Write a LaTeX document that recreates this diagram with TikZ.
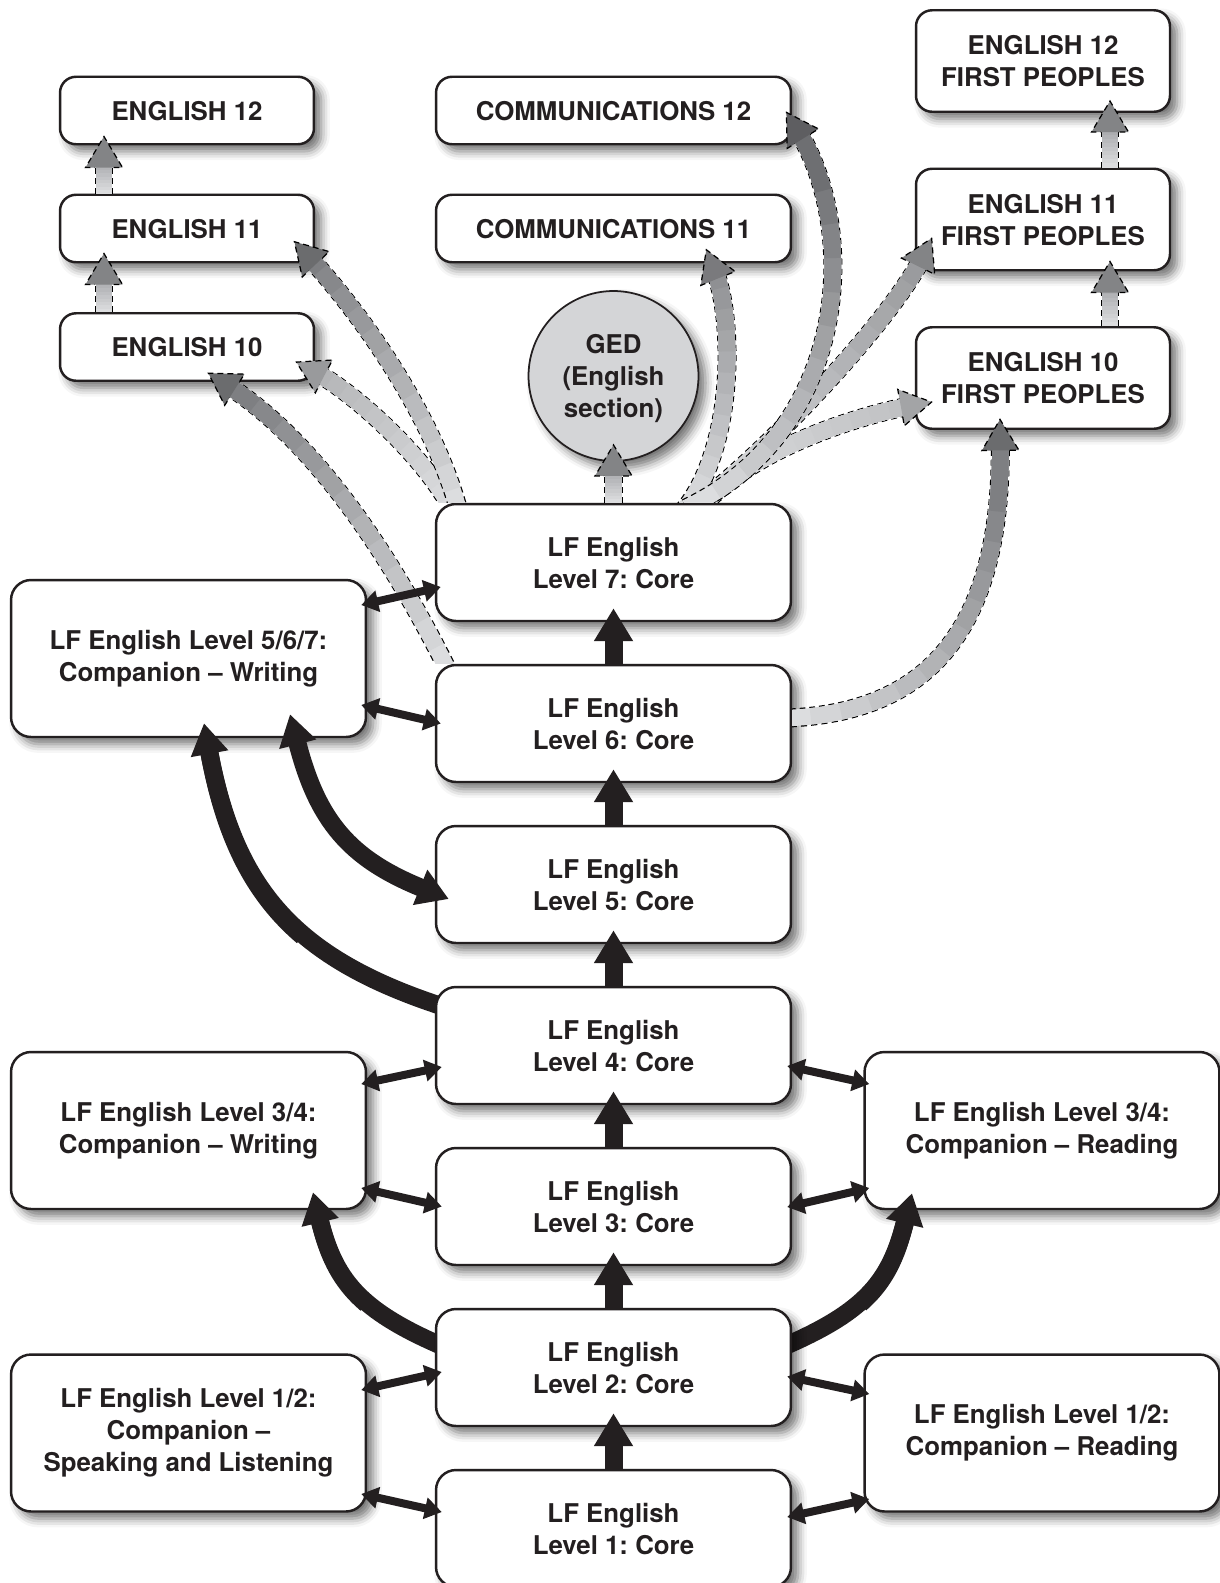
\documentclass[tikz,border=0pt]{standalone}
\usepackage{fontspec}
\setmainfont{TeX Gyre Heros}
\newfontfamily\boxfont{TeX Gyre Heros}
\usetikzlibrary{positioning,calc,arrows.meta,shadows.blur,decorations.markings}

\pgfdeclarelayer{back}
\pgfsetlayers{back,main}

\definecolor{boxline}{HTML}{231F20}
\definecolor{gedfill}{HTML}{D4D5D7}
\definecolor{glight}{HTML}{DCDDDF}
\definecolor{tipmid}{HTML}{8F9093}
\definecolor{tippale}{HTML}{B4B5B7}
\definecolor{tipdark}{HTML}{7E7F82}
\definecolor{tipdeep}{HTML}{6E6F72}
\definecolor{tipsoft}{HTML}{9A9B9E}
\definecolor{tipfaint}{HTML}{C0C1C3}

\tikzset{
  rbox/.style={draw=boxline, line width=1.4pt, fill=white, rounded corners=0.32cm,
    align=center, inner sep=0pt, text=boxline,
    font=\boxfont\bfseries\fontsize{14.7}{18.2}\selectfont\frenchspacing,
    blur shadow={shadow xshift=4pt, shadow yshift=-4pt, shadow blur radius=5pt, shadow opacity=55}},
  corebox/.style={rbox, rounded corners=0.4cm, text depth=-7pt, minimum width=7.1cm, minimum height=2.34cm},
  compbox/.style={rbox, rounded corners=0.4cm, minimum width=7.1cm, minimum height=3.14cm},
  gradebox/.style={rbox, text depth=-2.2pt, minimum width=5.08cm, minimum height=1.35cm},
  commbox/.style={rbox, text depth=-2.2pt, minimum width=7.1cm, minimum height=1.35cm},
  fpbox/.style={rbox, text depth=-2.2pt, minimum width=5.08cm, minimum height=2.03cm},
  gedcircle/.style={circle, draw=boxline, line width=1pt, fill=gedfill, minimum size=3.4cm,
    align=center, inner sep=0pt, text=boxline, text depth=0pt,
    font=\boxfont\bfseries\fontsize{14.7}{18.2}\selectfont\frenchspacing,
    blur shadow={shadow xshift=4pt, shadow yshift=-4pt, shadow blur radius=5pt, shadow opacity=55}},
  coreup/.style={draw=boxline, line width=0.36cm, -{Triangle[width=0.74cm,length=0.66cm]}},
  twoway/.style={draw=boxline, line width=0.16cm,
    {Triangle[width=0.42cm,length=0.34cm]}-{Triangle[width=0.42cm,length=0.34cm]}},
  bendline/.style={draw=boxline, line width=0.36cm},
  bendhead/.style={bendline, -{Triangle[width=0.72cm,length=0.62cm]}},
  bendboth/.style={bendline, {Triangle[width=0.72cm,length=0.62cm]}-{Triangle[width=0.72cm,length=0.62cm]}},
  gedge/.style={draw=black, line width=10.8pt, dash pattern=on 3.4pt off 2.3pt, shorten >=11.4pt},
  gbody/.style={line width=9.4pt, shorten >=11.4pt},
  gdash/.style={draw=black, line width=0.7pt, dash pattern=on 3.4pt off 2.3pt},
}

\newcommand{\bnode}[4]{\node[#1] (#2) at (#3) {#4}}
\newcommand{\ghead}[1]{%
  \fill[#1!85!black] (0,0) -- (-31,18.5) -- (-31,-18.5) -- cycle;
  \draw[gdash] (-31,9.5) -- (-31,18.5) -- (0,0) -- (-31,-18.5) -- (-31,-9.5);}
% #1 tip colour, #2 shaft length (pt), #3 extra keys, #4 path
\newcommand{\garrow}[4]{%
  \draw[gedge,#3] #4;
  \foreach \k in {0,...,11}{%
    \pgfmathsetmacro\gap{#2*\k/12}%
    \pgfmathtruncatemacro\mix{\k*100/11}%
    \draw[gbody,#3,draw=#1!\mix!glight,dash pattern=on 200cm off \gap pt,dash phase=200cm] #4;}
  \path[decorate,decoration={markings,mark=at position 0.999 with {\ghead{#1}}}] #4;}

\begin{document}
\begin{tikzpicture}[x=0.02cm, y=-0.02cm]
\useasboundingbox (0,0) rectangle (1220,1583);

% targets at the top
\bnode{gradebox}{E12}{187,110.5}{ENGLISH 12};
\bnode{gradebox}{E11}{187,228.5}{ENGLISH 11};
\bnode{gradebox}{E10}{187,347}{ENGLISH 10};
\bnode{commbox}{C12}{613.5,110.5}{COMMUNICATIONS 12};
\bnode{commbox}{C11}{613.5,228.5}{COMMUNICATIONS 11};
\bnode{gedcircle}{GED}{613.5,376}{GED\\(English\\section)};
\bnode{fpbox}{FP12}{1043,61}{ENGLISH 12\\FIRST PEOPLES};
\bnode{fpbox}{FP11}{1043,219.5}{ENGLISH 11\\FIRST PEOPLES};
\bnode{fpbox}{FP10}{1043,378}{ENGLISH 10\\FIRST PEOPLES};

% core levels
\bnode{corebox}{L7}{613.5,562.5}{LF English\\Level 7: Core};
\bnode{corebox}{L6}{613.5,723.5}{LF English\\Level 6: Core};
\bnode{corebox}{L5}{613.5,884.5}{LF English\\Level 5: Core};
\bnode{corebox}{L4}{613.5,1045.5}{LF English\\Level 4: Core};
\bnode{corebox}{L3}{613.5,1206.5}{LF English\\Level 3: Core};
\bnode{corebox}{L2}{613.5,1367.5}{LF English\\Level 2: Core};
\bnode{corebox}{L1}{613.5,1528.5}{LF English\\Level 1: Core};

% companions
\bnode{compbox}{W567}{188.5,658.5}{LF English Level 5/6/7:\\Companion – Writing};
\bnode{compbox}{W34}{188.5,1130.5}{LF English Level 3/4:\\Companion – Writing};
\bnode{compbox}{R34}{1042,1130.5}{LF English Level 3/4:\\Companion – Reading};
\bnode{compbox}{S12}{188.5,1433}{LF English Level 1/2:\\Companion –\\Speaking and Listening};
\bnode{compbox}{R12}{1042,1433}{LF English Level 1/2:\\Companion – Reading};

% grey pathways
\garrow{tipsoft}{23}{}{($(E10.north)+(-83,0)$) -- ($(E11.south)+(-83,-10)$)}
\garrow{tipsoft}{23}{}{($(E11.north)+(-83,0)$) -- ($(E12.south)+(-83,-9)$)}
\garrow{tipsoft}{27}{}{($(FP10.north)+(67,0)$) -- ($(FP11.south)+(67,-10)$)}
\garrow{tipsoft}{28}{}{($(FP11.north)+(67,0)$) -- ($(FP12.south)+(67,-12)$)}
\garrow{tipsoft}{23}{}{(L7.north) -- ($(GED.south)+(0,-17)$)}
\begin{scope}
\clip (0,0) rectangle ($(L7.north)+(620,0)$);
\garrow{tipfaint}{137}{shorten <=-6.8pt}{($(L7.north)+(91.5,0)$) .. controls (745,450) and (860,415) .. ($(FP10.west)+(17,24)$)}
\garrow{tipsoft}{196}{shorten <=-6.8pt}{($(L7.north)+(86.5,0)$) .. controls (770,450) and (893,318) .. ($(FP11.west)+(17,18.5)$)}
\garrow{tipmid}{145}{shorten <=-6.8pt}{($(L7.north)+(76.5,0)$) .. controls (735,450) and (735,320) .. ($(C11.south east)+(-86,-14)$)}
\garrow{tipdeep}{233}{shorten <=-6.8pt}{($(L7.north)+(83.5,0)$) .. controls (850,430) and (860,230) .. ($(C12.east)+(-6,1.5)$)}
\garrow{tippale}{114}{shorten <=-6.8pt}{($(L7.north west)+(14,0)$) .. controls (425,455) and (350,390) .. ($(E10.south east)+(-19,-20)$)}
\garrow{tipdark}{176}{shorten <=-6.8pt}{($(L7.north west)+(22,0)$) .. controls (430,400) and (340,290) .. ($(E11.south east)+(-21,-22)$)}
\end{scope}
\begin{scope}
\clip (0,0) rectangle (L6.north);
\garrow{tipdark}{208}{shorten <=-6.8pt}{($(L6.north west)+(10,0)$) .. controls (390,553) and (313,439) .. ($(E10.south)+(21,-9)$)}
\end{scope}
\begin{scope}
\clip ($(L6.east)+(0,-400)$) rectangle (1220,800);
\garrow{tipdark}{208}{shorten <=-6.8pt}{($(L6.east)+(0,-5.5)$) .. controls (920,715) and (1003,640) .. ($(FP10.south)+(-43,-11)$)}
\end{scope}

% core steps
\foreach \a/\b in {L1/L2,L2/L3,L3/L4,L4/L5,L5/L6,L6/L7}
  \draw[coreup] (\a.north) -- ($(\b.south)+(0,-14)$);

% companion links
\draw[twoway] ($(W567.east)+(-6,-53.5)$) -- ($(L7.west)+(6,24.5)$);
\draw[twoway] ($(W567.east)+(-6,46.5)$) -- ($(L6.west)+(6,0)$);
\draw[twoway] ($(W34.east)+(-6,-46.5)$) -- ($(L4.west)+(7,21.5)$);
\draw[twoway] ($(W34.east)+(-6,57.5)$) -- ($(L3.west)+(7,0)$);
\draw[twoway] ($(L4.east)+(-5,20.5)$) -- ($(R34.west)+(6,-46.5)$);
\draw[twoway] ($(L3.east)+(-5,0.5)$) -- ($(R34.west)+(6,57.5)$);
\draw[twoway] ($(S12.east)+(-6,-43)$) -- ($(L2.west)+(7,4.5)$);
\draw[twoway] ($(S12.east)+(-6,61)$) -- ($(L1.west)+(7,-16.5)$);
\draw[twoway] ($(L2.east)+(-5,9)$) -- ($(R12.west)+(6,-39)$);
\draw[twoway] ($(L1.east)+(-5,-11.5)$) -- ($(R12.west)+(6,66)$);

% bent arrows: tails tucked under the core boxes
\begin{pgfonlayer}{back}
\draw[bendline, shorten <=-8pt, shorten >=14pt] ($(L4.west)+(0,-41.5)$) .. controls (293,959) and (234,888) .. ($(W567.south)+(15.5,-15)$);
\draw[bendline, shorten <=-8pt, shorten >=14pt] ($(L2.west)+(0,-24.5)$) .. controls (359,1311) and (334,1280) .. ($(W34.south)+(124.5,-18)$);
\draw[bendline, shorten <=-8pt, shorten >=14pt] ($(L2.east)+(0,-24.5)$) .. controls (868,1311) and (891,1280) .. ($(R34.south)+(-130,-17)$);
\end{pgfonlayer}
\draw[bendhead, dash pattern=on 200cm off 85pt, dash phase=200cm] ($(L4.west)+(0,-41.5)$) .. controls (293,959) and (234,888) .. ($(W567.south)+(15.5,-15)$);
\draw[bendhead, dash pattern=on 200cm off 45pt, dash phase=200cm] ($(L2.west)+(0,-24.5)$) .. controls (359,1311) and (334,1280) .. ($(W34.south)+(124.5,-18)$);
\draw[bendhead, dash pattern=on 200cm off 45pt, dash phase=200cm] ($(L2.east)+(0,-24.5)$) .. controls (868,1311) and (891,1280) .. ($(R34.south)+(-130,-17)$);
\draw[bendboth] ($(W567.south)+(101.5,-24)$) .. controls (317.5,821) and (349.5,858.5) .. ($(L5.west)+(14,14.5)$);

\end{tikzpicture}
\end{document}
